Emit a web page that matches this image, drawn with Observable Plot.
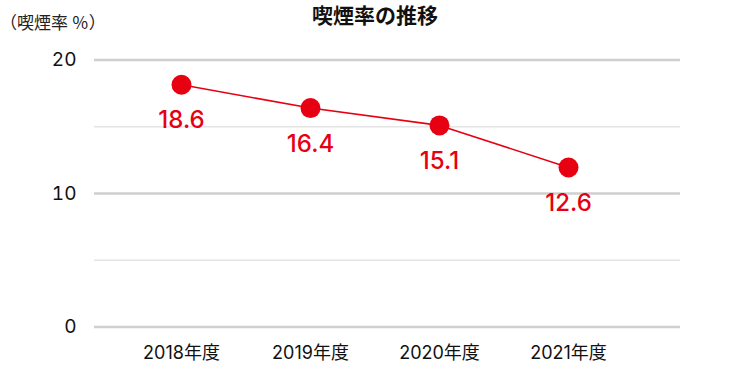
<!DOCTYPE html>
<html>
<head>
<meta charset="utf-8">
<script src="https://cdn.jsdelivr.net/npm/d3@7"></script>
<script src="https://cdn.jsdelivr.net/npm/@observablehq/plot@0.6"></script>
<style>
  html, body { margin: 0; padding: 0; background: #fff; }
  #wrap { position: relative; width: 750px; height: 380px; overflow: hidden; font-family: Inter, "Noto Sans CJK JP", sans-serif; }
  #title { position: absolute; left: 0; width: 750px; top: 2px; text-align: center; font-size: 21px; font-weight: bold; color: #111; font-family: "Noto Sans CJK JP", sans-serif; line-height: 24px; }
  #ylabel { position: absolute; left: 0px; top: 10px; font-size: 17px; color: #222; font-family: "Noto Sans CJK JP", sans-serif; line-height: 24px; }
  #chart { position: absolute; left: 0; top: 0; }
</style>
</head>
<body>
<div id="wrap">
  <div id="chart"></div>
  <div id="title">喫煙率の推移</div>
  <div id="ylabel">（喫煙率 ％）</div>
</div>
<script>
const years = ["2018年度", "2019年度", "2020年度", "2021年度"];
const rates = [18.15, 16.4, 15.1, 11.95];
const rateLabels = ["18.6", "16.4", "15.1", "12.6"];
const yTicks = [0, 10, 20];
const minorTicks = [5, 15];

const data = years.map((y, i) => ({year: y, rate: rates[i], label: rateLabels[i]}));
const red = "#e60012";

const chart = Plot.plot({
  width: 750,
  height: 380,
  marginLeft: 94,
  marginRight: 70,
  marginTop: 59.5,
  marginBottom: 53.5,
  style: {fontFamily: 'Inter, "Noto Sans CJK JP", sans-serif', background: "transparent"},
  x: {type: "point", domain: years, range: [180, 568.3], padding: 0, label: null},
  y: {domain: [0, 20], label: null},
  marks: [
    Plot.ruleY(minorTicks, {stroke: "#e4e4e4", strokeWidth: 1.5}),
    Plot.ruleY(yTicks, {stroke: "#cfcfcf", strokeWidth: 2.5}),
    Plot.axisY({ticks: yTicks, tickSize: 0, tickPadding: 18, fontSize: 19, fill: "#111", label: null}),
    Plot.axisX({tickSize: 0, tickPadding: 19, fontSize: 18, fill: "#111", label: null}),
    Plot.line(data, {x: "year", y: "rate", stroke: red, strokeWidth: 1.6}),
    Plot.dot(data, {x: "year", y: "rate", r: 10, fill: red, stroke: "none"}),
    Plot.text(data, {x: "year", y: "rate", text: "label", dy: 36, fill: red, fontSize: 24, fontWeight: 500})
  ]
});
document.getElementById("chart").appendChild(chart);
</script>
</body>
</html>
